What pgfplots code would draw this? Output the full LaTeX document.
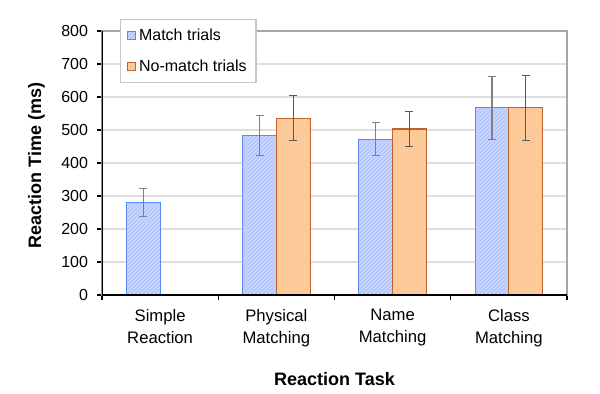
\documentclass[border=0pt]{standalone}
\usepackage{fontspec}
\setmainfont{Liberation Sans}
\usepackage{pgfplots}
\usepackage{pgfplotstable}
\pgfplotsset{compat=1.18}
\usetikzlibrary{patterns}
\definecolor{mfill}{RGB}{200,214,252}
\definecolor{medge}{RGB}{95,135,245}
\definecolor{mhatch}{RGB}{165,185,245}
\definecolor{nfill}{RGB}{252,202,152}
\definecolor{nedge}{RGB}{192,98,48}
\pgfplotstableread{
x y e
0 280 43
1 483 60
2 472 50
3 567 95
}\match
\pgfplotstableread{
x y e
1 536 68
2 503 53
3 567 98
}\nomatch
\begin{document}
\begin{tikzpicture}
\path[use as bounding box] (-76.5pt,-73.5pt) rectangle (373.5pt,221.25pt);
\begin{axis}[
  at={(0pt,0pt)}, anchor=south west,
  width=348.75pt, height=198pt, scale only axis,
  ybar, bar width=0.29,
  xmin=-0.5, xmax=3.5, ymin=0, ymax=800,
  ytick distance=100,
  xtick={0,1,2,3},
  xticklabels={Simple\\Reaction, Physical\\Matching, Name\\Matching, Class\\Matching},
  minor xtick={-0.5,0.5,1.5,2.5,3.5},
  tick pos=left, tick align=outside,
  major tick length=4pt, minor tick length=4pt,
  major x tick style={draw=none},
  minor x tick style={black, line width=0.8pt},
  ytick style={black, line width=0.8pt},
  axis line style={black!35, line width=0.8pt},
  ymajorgrids, major grid style={black!13, line width=0.8pt},
  /pgf/number format/assume math mode=true,
  yticklabel style={font=\fontsize{12}{14}\selectfont, xshift=-3pt},
  xticklabel style={font=\fontsize{12.5}{16.5}\selectfont, align=center, yshift=-3pt},
  ylabel={\bfseries Reaction Time (ms)},
  xlabel={\bfseries Reaction Task},
  ylabel style={at={(axis description cs:-0.141,0.49)}, anchor=center, rotate=0, font=\fontsize{13.5}{15}\selectfont},
  xlabel style={at={(axis description cs:0.5,-0.318)}, anchor=center, font=\fontsize{13.5}{15}\selectfont},
  legend style={at={(axis description cs:0.039,1.045)}, anchor=north west,
    draw=black!22, line width=0.8pt, fill=white, font=\fontsize{12}{14}\selectfont,
    row sep=9pt, inner xsep=5pt, inner ysep=5pt,
    /tikz/every even column/.style={column sep=0pt}},
  legend cell align=left,
  legend image code/.code={\draw[#1, line width=0.8pt] (0pt,-3pt) rectangle (6pt,3pt);},
]
\addplot[fill=mfill, draw=medge, line width=0.8pt,
  postaction={pattern=north east lines, pattern color=mhatch},
  bar shift=-0.145,
  error bars/.cd, y dir=both, y explicit,
  error bar style={black!50, line width=0.8pt},
  error mark options={rotate=90, mark size=3pt, black!50, line width=0.8pt}]
  table[x=x, y=y, y error=e]{\match};
\addlegendentry{Match trials}
\addplot[fill=nfill, draw=nedge, line width=0.8pt,
  bar shift=0.145,
  error bars/.cd, y dir=both, y explicit,
  error bar style={black!65, line width=0.8pt},
  error mark options={rotate=90, mark size=3pt, black!65, line width=0.8pt}]
  table[x=x, y=y, y error=e]{\nomatch};
\addlegendentry{No-match trials}
\draw[black, line width=1.1pt] (rel axis cs:0,1) -- (rel axis cs:0,0) -- (rel axis cs:1,0);
\end{axis}
\end{tikzpicture}
\end{document}
